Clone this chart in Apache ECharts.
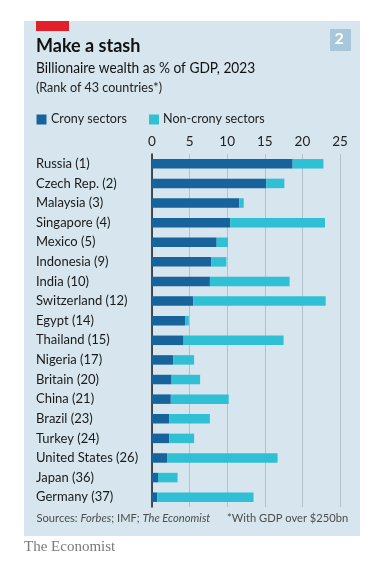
<!DOCTYPE html>
<html>
<head>
<meta charset="utf-8">
<script src="https://cdn.jsdelivr.net/npm/echarts@6/dist/echarts.min.js"></script>
<style>
html,body{margin:0;padding:0;background:#fff;}
#c{width:380px;height:573px;}
</style>
</head>
<body>
<div id="c"></div>
<script>
const categories = ["Russia (1)","Czech Rep. (2)","Malaysia (3)","Singapore (4)","Mexico (5)","Indonesia (9)","India (10)","Switzerland (12)","Egypt (14)","Thailand (15)","Nigeria (17)","Britain (20)","China (21)","Brazil (23)","Turkey (24)","United States (26)","Japan (36)","Germany (37)"];
const crony =    [18.7, 15.2, 11.6, 10.4, 8.6, 7.9, 7.7, 5.5, 4.4, 4.2, 2.8, 2.6, 2.5, 2.3, 2.3, 2.0, 0.8, 0.7];
const nonCrony = [4.1, 2.4, 0.6, 12.6, 1.5, 2.0, 10.6, 17.6, 0.5, 13.3, 2.8, 3.8, 7.7, 5.4, 3.3, 14.7, 2.6, 12.8];
const xTicks = [0, 5, 10, 15, 20, 25];

const font = 'Lato, "Open Sans", sans-serif';
const chart = echarts.init(document.getElementById('c'), null, {renderer: 'canvas'});
chart.setOption({
  animation: false,
  backgroundColor: '#ffffff',
  graphic: [
    {type:'rect', shape:{x:24,y:21,width:336,height:515}, style:{fill:'#d6e5ee'}, z:-10},
    {type:'rect', shape:{x:36,y:21,width:33,height:10}, style:{fill:'#e3202a'}},
    {type:'rect', shape:{x:330,y:29,width:21,height:22}, style:{fill:'#a9c7da'}},
    {type:'text', left:334.5, top:31, style:{text:'2', fill:'#ffffff', font:'bold 16px ' + font}},
    {type:'text', left:36, top:37, style:{text:'Make a stash', fill:'#121212', font:'bold 18px ' + font}},
    {type:'text', left:36, top:61, scaleX:0.945, style:{text:'Billionaire wealth as % of GDP, 2023', fill:'#121212', font:'14.5px ' + font}},
    {type:'text', left:36, top:81, scaleX:0.93, style:{text:'(Rank of 43 countries*)', fill:'#222222', font:'13.5px ' + font}},
    {type:'rect', shape:{x:36.5,y:114.5,width:10,height:10}, style:{fill:'#17649c'}},
    {type:'text', left:51, top:112, scaleX:0.93, style:{text:'Crony sectors', fill:'#222222', font:'13.5px ' + font}},
    {type:'rect', shape:{x:149,y:114.5,width:10,height:10}, style:{fill:'#30c0d5'}},
    {type:'text', left:163, top:112, scaleX:0.93, style:{text:'Non-crony sectors', fill:'#222222', font:'13.5px ' + font}},
    {type:'text', left:36.5, top:512, scaleX:0.93, style:{
      text:'{n|Sources: }{i|Forbes}{n|; IMF; }{i|The Economist}',
      rich:{n:{fill:'#4d4d4d', font:'12px ' + font}, i:{fill:'#4d4d4d', font:'italic 12px ' + font}}
    }},
    {type:'text', left:227, top:512, scaleX:0.93, style:{text:'*With GDP over $250bn', fill:'#4d4d4d', font:'12px ' + font}},
    {type:'text', left:24, top:540, style:{text:'The Economist', fill:'#7a7a7a', font:'15px "Liberation Serif", "DejaVu Serif", serif'}}
  ],
  grid: {left:152, right:40, top:154, height:353, containLabel:false},
  xAxis: {
    type:'value', position:'top', min:0, max:25, interval:5,
    axisLine:{show:false}, axisTick:{show:false},
    axisLabel:{color:'#222', fontSize:13.5, fontFamily:font, margin:5},
    splitLine:{show:true, lineStyle:{color:'#b3c1ca', width:1}}
  },
  yAxis: {
    type:'category', data:categories, inverse:true,
    axisLine:{show:true, lineStyle:{color:'#1a1a1a', width:1.5}},
    axisTick:{show:false},
    axisLabel:{color:'#1a1a1a', fontSize:13, fontFamily:font, align:'left', margin:116}
  },
  series: [
    {name:'Crony sectors', type:'bar', stack:'t', data:crony, barWidth:9.5, itemStyle:{color:'#17649c'}},
    {name:'Non-crony sectors', type:'bar', stack:'t', data:nonCrony, barWidth:9.5, itemStyle:{color:'#30c0d5'}}
  ]
});
</script>
</body>
</html>
